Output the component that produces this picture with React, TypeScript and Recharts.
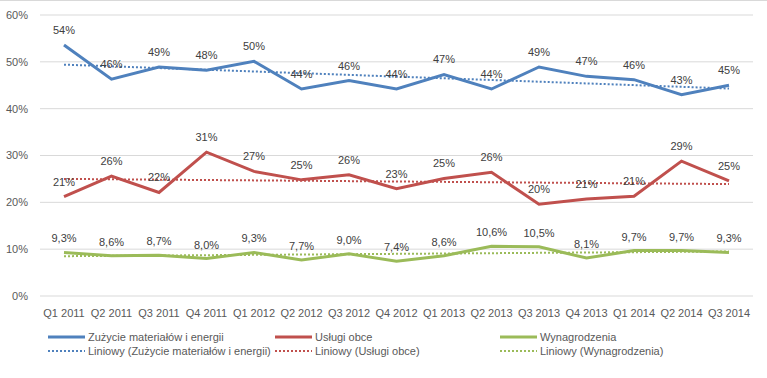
import { LineChart, Line, XAxis, YAxis, CartesianGrid, Legend, LabelList } from 'recharts'

const quarters = [
  'Q1 2011', 'Q2 2011', 'Q3 2011', 'Q4 2011', 'Q1 2012', 'Q2 2012', 'Q3 2012', 'Q4 2012',
  'Q1 2013', 'Q2 2013', 'Q3 2013', 'Q4 2013', 'Q1 2014', 'Q2 2014', 'Q3 2014',
]
const zuzycie = [53.6, 46.3, 48.9, 48.2, 50.1, 44.2, 46.0, 44.2, 47.3, 44.2, 48.9, 46.9, 46.2, 43.0, 45.0]
const uslugi = [21.2, 25.6, 22.1, 30.7, 26.6, 24.8, 25.9, 22.9, 25.1, 26.4, 19.6, 20.7, 21.3, 28.8, 24.6]
const wynagrodzenia = [9.3, 8.6, 8.7, 8.0, 9.3, 7.7, 9.0, 7.4, 8.6, 10.6, 10.5, 8.1, 9.7, 9.7, 9.3]
// trend lines, read at first and last quarter
const trendZuzycie = [49.4, 44.3]
const trendUslugi = [25.0, 23.9]
const trendWynagr = [8.5, 9.5]
const yTicks = [0, 10, 20, 30, 40, 50, 60]

const last = quarters.length - 1
const data = quarters.map((q, i) => ({
  q,
  zuzycie: zuzycie[i],
  uslugi: uslugi[i],
  wynagrodzenia: wynagrodzenia[i],
  tZuzycie: i === 0 ? trendZuzycie[0] : i === last ? trendZuzycie[1] : null,
  tUslugi: i === 0 ? trendUslugi[0] : i === last ? trendUslugi[1] : null,
  tWynagr: i === 0 ? trendWynagr[0] : i === last ? trendWynagr[1] : null,
}))

const BLUE = '#4f81bd'
const RED = '#c0504d'
const GREEN = '#9bbb59'
const font = '"Liberation Sans", Arial, sans-serif'

const legendItems = [
  { name: 'Zużycie materiałów i energii', color: BLUE, dotted: false },
  { name: 'Usługi obce', color: RED, dotted: false },
  { name: 'Wynagrodzenia', color: GREEN, dotted: false },
  { name: 'Liniowy (Zużycie materiałów i energii)', color: BLUE, dotted: true },
  { name: 'Liniowy (Usługi obce)', color: RED, dotted: true },
  { name: 'Liniowy (Wynagrodzenia)', color: GREEN, dotted: true },
]

const renderLegend = () => (
  <div style={{ display: 'grid', gridTemplateColumns: '227px 225px 230px', paddingLeft: 48, rowGap: 0 }}>
    {legendItems.map(it => (
      <div key={it.name} style={{ display: 'flex', alignItems: 'center', height: 14, fontSize: 11, color: '#595959', fontFamily: font, whiteSpace: 'nowrap' }}>
        <svg width={38} height={6} style={{ marginRight: 2 }}>
          <line x1={0} y1={3} x2={37} y2={3} stroke={it.color}
            strokeWidth={it.dotted ? 2 : 3} strokeDasharray={it.dotted ? '2 2' : undefined} />
        </svg>
        {it.name}
      </div>
    ))}
  </div>
)

const fmtInt = (v: any) => `${Math.round(Number(v))}%`
const fmtDec = (v: any) => `${Number(v).toFixed(1).replace('.', ',')}%`

export default function App() {
  return (
    <div style={{ position: 'absolute', left: 0, top: 0, width: 767, height: 378, borderTop: '1px solid #d9d9d9', boxSizing: 'border-box', background: '#fff' }}>
      <LineChart width={767} height={377} data={data} margin={{ top: 14, right: 14, left: 0, bottom: 12 }}>
        <CartesianGrid vertical={false} stroke="#d9d9d9" />
        <XAxis dataKey="q" axisLine={false} tickLine={false} tickSize={0} tickMargin={13} height={24}
          interval={0} padding={{ left: 24, right: 24 }} tick={{ fontSize: 11, fill: '#595959', fontFamily: font }} />
        <YAxis domain={[0, 60]} ticks={yTicks} tickFormatter={v => `${v}%`} axisLine={false} tickLine={false}
          tickSize={0} tickMargin={12} width={40} tick={{ fontSize: 11, fill: '#595959', fontFamily: font }} />
        <Legend verticalAlign="bottom" height={46} content={renderLegend} wrapperStyle={{ left: 0, top: 329, width: 767 }} />
        <Line dataKey="tZuzycie" stroke={BLUE} strokeWidth={2} strokeDasharray="2 2" dot={false} connectNulls isAnimationActive={false} />
        <Line dataKey="tUslugi" stroke={RED} strokeWidth={2} strokeDasharray="2 2" dot={false} connectNulls isAnimationActive={false} />
        <Line dataKey="tWynagr" stroke={GREEN} strokeWidth={2} strokeDasharray="2 2" dot={false} connectNulls isAnimationActive={false} />
        <Line dataKey="zuzycie" stroke={BLUE} strokeWidth={3} dot={false} isAnimationActive={false}>
          <LabelList dataKey="zuzycie" position="top" offset={11} formatter={fmtInt} style={{ fontSize: 11, fill: '#404040', fontFamily: font }} />
        </Line>
        <Line dataKey="uslugi" stroke={RED} strokeWidth={3} dot={false} isAnimationActive={false}>
          <LabelList dataKey="uslugi" position="top" offset={11} formatter={fmtInt} style={{ fontSize: 11, fill: '#404040', fontFamily: font }} />
        </Line>
        <Line dataKey="wynagrodzenia" stroke={GREEN} strokeWidth={3} dot={false} isAnimationActive={false}>
          <LabelList dataKey="wynagrodzenia" position="top" offset={10} formatter={fmtDec} style={{ fontSize: 11, fill: '#404040', fontFamily: font }} />
        </Line>
      </LineChart>
    </div>
  )
}
